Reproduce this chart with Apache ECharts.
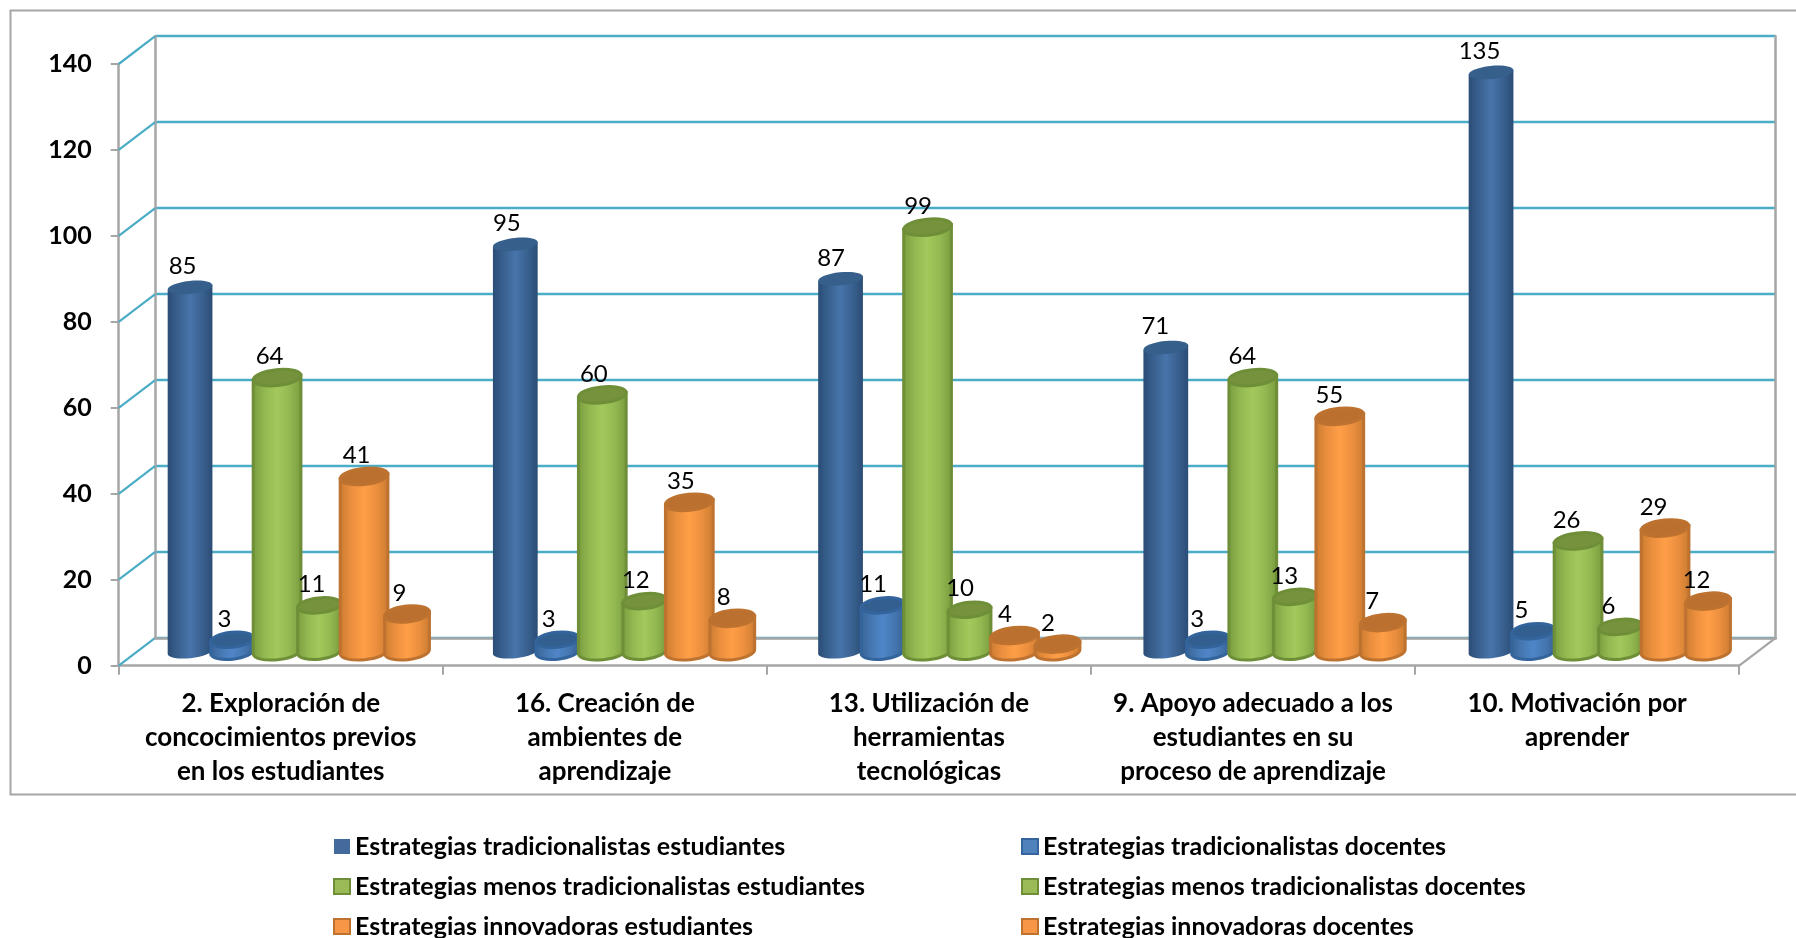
<!DOCTYPE html>
<html>
<head>
<meta charset="utf-8">
<style>html,body{margin:0;padding:0;background:#fff;overflow:hidden}#c{width:1796px;height:938px}</style>
<script src="https://cdn.jsdelivr.net/npm/echarts@6/dist/echarts.min.js"></script>
</head>
<body>
<div id="c"></div>
<script>
const categories = [
  '2. Exploración de\nconcocimientos previos\nen los estudiantes',
  '16. Creación de\nambientes de\naprendizaje',
  '13. Utilización de\nherramientas\ntecnológicas',
  '9. Apoyo adecuado a los\nestudiantes en su\nproceso de aprendizaje',
  '10. Motivación por\naprender'
];
const tradicionalEst = [85, 95, 87, 71, 135];
const tradicionalDoc = [3, 3, 11, 3, 5];
const menosEst = [64, 60, 99, 64, 26];
const menosDoc = [11, 12, 10, 13, 6];
const innovEst = [41, 35, 4, 55, 29];
const innovDoc = [9, 8, 2, 7, 12];
const yTicks = [0, 20, 40, 60, 80, 100, 120, 140];

const BLUE = {stops:['#2b4d76','#3a6291','#4774aa','#3a6291','#2b4d76'], top:'#365f8c', stroke:null, legend:'#44699b'};
const LBLUE = {stops:['#376292','#4577b2','#4f86c8','#4577b2','#376292'], top:'#335f90', stroke:'#33649c', legend:'#4f81bd'};
const GREEN = {stops:['#789a3c','#92b851','#a3c95c','#92b851','#789a3c'], top:'#76923c', stroke:'#6f8e38', legend:'#9bbb59'};
const ORANGE = {stops:['#c87a30','#eb8f3e','#ff9e47','#eb8f3e','#c87a30'], top:'#bb7030', stroke:'#bd7230', legend:'#f79646'};

const seriesDefs = [
  {name:'Estrategias tradicionalistas estudiantes', values:tradicionalEst, pal:BLUE, off:-109, rx:22.5, ry:6.5},
  {name:'Estrategias tradicionalistas docentes', values:tradicionalDoc, pal:LBLUE, off:-67, rx:21.5, ry:7.5},
  {name:'Estrategias menos tradicionalistas estudiantes', values:menosEst, pal:GREEN, off:-22, rx:24, ry:8},
  {name:'Estrategias menos tradicionalistas docentes', values:menosDoc, pal:GREEN, off:20, rx:21.5, ry:7.5},
  {name:'Estrategias innovadoras estudiantes', values:innovEst, pal:ORANGE, off:65, rx:24, ry:8},
  {name:'Estrategias innovadoras docentes', values:innovDoc, pal:ORANGE, off:108, rx:22.5, ry:8}
];

const DEPTH_X = 36.5, DEPTH_Y = 27.8, MID_X = 18.3, MID_Y = 13;
const GROUP_SKEW = 1.15, LABEL_SKEW = 1, LABEL_DX = -7.5, LABEL_DY = -21;
const TILT = 6 * Math.PI / 180;
const LABEL_FONT = '400 24px Lato';
const BOLD = 'Lato';
const GRID = {left:118.7, top:64, width:1620.5, height:601.7};

function cylinder(def, idx) {
  return function (params, api) {
    const c = api.value(0);
    const pt = api.coord([c, api.value(1)]);
    const base = api.coord([c, 0]);
    const cx = pt[0] + MID_X + def.off + c * GROUP_SKEW;
    const ty = pt[1] - MID_Y, by = base[1] - MID_Y - 1;
    const dx = def.rx * Math.cos(TILT), dy = def.rx * Math.sin(TILT);
    const p = def.pal;
    const path = 'M' + (cx - dx) + ' ' + (ty + dy) +
      ' L' + (cx - dx) + ' ' + (by + dy) +
      ' A' + def.rx + ' ' + def.ry + ' -6 0 0 ' + (cx + dx) + ' ' + (by - dy) +
      ' L' + (cx + dx) + ' ' + (ty - dy) + ' Z';
    const n = p.stops.length;
    const fill = new echarts.graphic.LinearGradient(0, 0, 1, 0,
      p.stops.map((s, i) => ({offset: i / (n - 1), color: s})));
    const strokeStyle = p.stroke ? {stroke: p.stroke, lineWidth: 3} : {};
    return {
      type: 'group',
      children: [
        {type:'path', z2: idx * 10 + 1, shape:{pathData: path}, style: Object.assign({fill: fill}, strokeStyle)},
        {type:'ellipse', z2: idx * 10 + 2, x: cx, y: ty, rotation: TILT,
          shape:{cx:0, cy:0, rx:def.rx, ry:def.ry},
          style: Object.assign({fill: p.top}, strokeStyle)},
        {type:'text', z2: 500, style:{text: String(api.value(1)), x: cx + LABEL_DX - c * LABEL_SKEW, y: ty + LABEL_DY,
          fill:'#000', font: LABEL_FONT, align:'center', verticalAlign:'middle'}}
      ]
    };
  };
}

const series = seriesDefs.map((def, i) => ({
  name: def.name,
  type: 'custom',
  xAxisIndex: 0, yAxisIndex: 0,
  clip: false,
  z: 5,
  encode: {x:0, y:1},
  itemStyle: {color: def.pal.legend, borderColor: def.pal.stroke || def.pal.legend, borderWidth: def.pal.stroke ? 3 : 0},
  data: def.values.map((v, c) => [c, v]),
  renderItem: cylinder(def, i)
}));

// depth lines joining the front axis to the back wall
series.push({
  type:'custom', name:'wall', xAxisIndex:0, yAxisIndex:0, clip:false, z:2, silent:true,
  encode:{y:0},
  data: yTicks.map(v => [v]),
  renderItem: function (params, api) {
    const y = api.coord([0, api.value(0)])[1];
    const x = params.coordSys.x;
    return {type:'line', shape:{x1:x, y1:y, x2:x + DEPTH_X, y2:y - DEPTH_Y},
      style:{stroke:'#4bacc6', lineWidth:2.2}};
  }
});
series.push({
  type:'custom', name:'floor', xAxisIndex:0, yAxisIndex:0, clip:false, z:2, silent:true,
  encode:{y:0},
  data:[[0]],
  renderItem: function (params, api) {
    const y = api.coord([0, api.value(0)])[1];
    const x = params.coordSys.x + params.coordSys.width;
    return {type:'line', shape:{x1:x, y1:y, x2:x + DEPTH_X, y2:y - DEPTH_Y},
      style:{stroke:'#a6a6a6', lineWidth:2.2}};
  }
});

const legendText = {fontFamily:BOLD, fontWeight:700, fontSize:25, color:'#000', padding:[0,0,0,0]};
const legendBase = {orient:'vertical', height:140, itemGap:15, itemWidth:16, itemHeight:15, selectedMode:false, icon:'rect', textStyle:legendText, padding:0};

const option = {
  animation:false,
  backgroundColor:'#fff',
  graphic:[{type:'rect', z:-10, shape:{x:10.5, y:10.5, width:1830, height:784},
    style:{fill:'none', stroke:'#a6a6a6', lineWidth:2}}],
  grid:[
    GRID,
    {left:GRID.left + DEPTH_X, top:GRID.top - DEPTH_Y, width:GRID.width, height:GRID.height}
  ],
  legend:[
    Object.assign({left:333, top:834, data:seriesDefs.filter((d, i) => i % 2 === 0).map(d => d.name)}, legendBase),
    Object.assign({left:1021, top:834, data:seriesDefs.filter((d, i) => i % 2 === 1).map(d => d.name)}, legendBase)
  ],
  xAxis:[
    {type:'category', gridIndex:0, data:categories,
      axisLine:{onZero:false, lineStyle:{color:'#a6a6a6', width:2.5}},
      axisTick:{show:true, length:9, alignWithLabel:false, lineStyle:{color:'#a6a6a6', width:2}},
      axisLabel:{interval:0, margin:21, color:'#000', fontFamily:BOLD, fontWeight:700, fontSize:26, lineHeight:33.8},
      splitLine:{show:false}},
    {type:'category', gridIndex:1, data:categories, z:3,
      axisLine:{onZero:false, lineStyle:{color:'#a6a6a6', width:2.5}},
      axisTick:{show:false}, axisLabel:{show:false}, splitLine:{show:false}}
  ],
  yAxis:[
    {type:'value', gridIndex:0, min:0, max:140, interval:20,
      axisLine:{show:true, lineStyle:{color:'#a6a6a6', width:2.5}},
      axisTick:{show:true, length:8, lineStyle:{color:'#a6a6a6', width:2}},
      axisLabel:{margin:27, color:'#000', fontFamily:BOLD, fontWeight:700, fontSize:25, padding:[7,0,0,0]},
      splitLine:{show:false}},
    {type:'value', gridIndex:1, min:0, max:140, interval:20, position:'left',
      axisLine:{show:true, lineStyle:{color:'#a6a6a6', width:2.5}},
      axisTick:{show:false}, axisLabel:{show:false},
      splitLine:{show:true, lineStyle:{color:'#4bacc6', width:2.4}}},
    {type:'value', gridIndex:1, min:0, max:140, interval:20, position:'right',
      axisLine:{show:true, lineStyle:{color:'#a6a6a6', width:2.5}},
      axisTick:{show:false}, axisLabel:{show:false}, splitLine:{show:false}}
  ],
  series: series
};
echarts.init(document.getElementById('c')).setOption(option);
</script>
</body>
</html>
